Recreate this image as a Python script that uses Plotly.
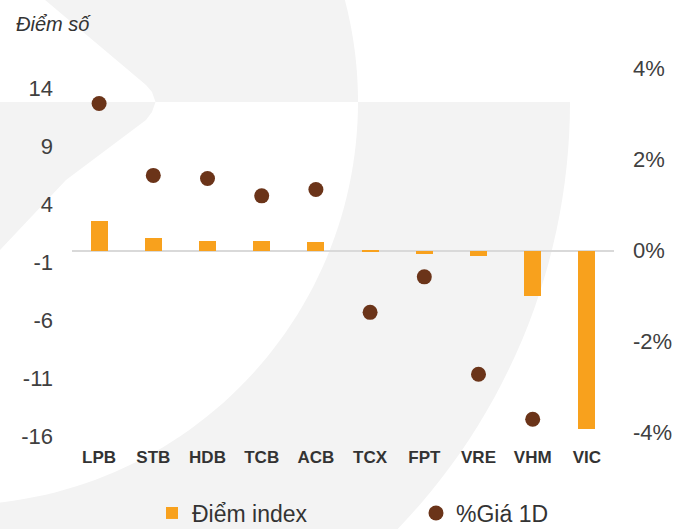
import numpy as np
import plotly.graph_objects as go

# ---------------- data ----------------
categories = ["LPB", "STB", "HDB", "TCB", "ACB", "TCX", "FPT", "VRE", "VHM", "VIC"]
diem_index = [2.53, 1.12, 0.84, 0.81, 0.78, -0.1, -0.3, -0.43, -3.88, -15.4]
gia_1d_pct = [3.22, 1.64, 1.57, 1.19, 1.33, -1.37, -0.59, -2.73, -3.72, None]
left_ticks = [14, 9, 4, -1, -6, -11, -16]
right_ticks = [4, 2, 0, -2, -4]

# ---------------- layout geometry (pixels) ----------------
W, H = 691, 529
PL, PR, PT, PB = 72, 614, 68, 437
FONT = "Liberation Sans, Arial, sans-serif"


def px2paper(x, y):
    return (x - PL) / (PR - PL), (PB - y) / (PB - PT)


def path_from(points):
    pts = [px2paper(x, y) for x, y in points]
    return "M " + " L ".join(f"{a:.5f},{b:.5f}" for a, b in pts) + " Z"


# background watermark (decorative)
cx, cy, r1, r2 = -45.0, 102.0, 403.0, 615.0
theta_top = np.arcsin((cy + 6) / r1)
arc_up = [(cx + r1 * np.cos(t), cy - r1 * np.sin(t)) for t in np.linspace(0, theta_top, 30)]
upper = [(38, -6), (146, 85), (152, 92), (155.5, 102)] + arc_up
lower_left = [(-6, 102), (155.5, 102), (152, 112), (146, 120), (66, 180), (0, 250), (-6, 256)]
ts = np.linspace(0, np.pi, 120)
ring = [(cx + r2 * np.cos(t), cy + r2 * np.sin(t)) for t in ts] + \
       [(cx + r1 * np.cos(t), cy + r1 * np.sin(t)) for t in ts[::-1]]

shapes = [
    dict(type="path", xref="paper", yref="paper", path=path_from(p),
         fillcolor="#F3F3F3", line=dict(width=0), layer="below")
    for p in (upper, lower_left, ring)
]

fig = go.Figure()
fig.add_trace(go.Bar(
    x=categories, y=diem_index, name="Điểm index",
    marker=dict(color="#F8A11D", line=dict(width=0)), width=0.314, yaxis="y",
))
fig.add_trace(go.Scatter(
    x=categories, y=gia_1d_pct, name="%Giá 1D", mode="markers",
    marker=dict(color="#6B3419", size=15), yaxis="y2",
))

zero_left = 250.7
ppu_left = 11.6
zero_right = 250.0
ppu_right = 45.5

fig.update_layout(
    width=W, height=H, autosize=False,
    margin=dict(l=PL, r=W - PR, t=PT, b=H - PB, pad=0, autoexpand=False),
    paper_bgcolor="white", plot_bgcolor="rgba(0,0,0,0)",
    font=dict(family=FONT, color="#404040"),
    shapes=shapes,
    bargap=0,
    showlegend=True,
    legend=dict(orientation="h", xref="container", yref="container",
                x=152 / W, xanchor="left",
                y=1 - 513 / H, yanchor="middle",
                font=dict(size=23, color="#333333", family=FONT),
                itemwidth=30, entrywidth=219, bgcolor="rgba(0,0,0,0)"),
    xaxis=dict(
        type="category", range=[-0.5, 9.5], showgrid=False, showline=False,
        ticks="", ticklabelstandoff=8, automargin=False,
        tickfont=dict(size=17, color="#333333", family=FONT, weight="bold"),
    ),
    yaxis=dict(
        range=[-(PB - zero_left) / ppu_left, (zero_left - PT) / ppu_left],
        tickvals=left_ticks, ticktext=[str(v) for v in left_ticks],
        showgrid=False, zeroline=True, zerolinecolor="#D9D9D9", zerolinewidth=2,
        showline=False, ticks="", ticklabelstandoff=18, automargin=False,
        tickfont=dict(size=22, color="#404040"),
    ),
    yaxis2=dict(
        overlaying="y", side="right",
        range=[-(PB - zero_right) / ppu_right, (zero_right - PT) / ppu_right],
        tickvals=right_ticks, ticktext=[f"{v}%" for v in right_ticks],
        showgrid=False, zeroline=False, showline=False, ticks="", ticklabelstandoff=18,
        automargin=False,
        tickfont=dict(size=22, color="#404040"),
    ),
    annotations=[dict(
        text="<i>Điểm số</i>", xref="paper", yref="paper",
        x=px2paper(14, 0)[0], y=px2paper(0, 24)[1], xanchor="left", yanchor="middle",
        showarrow=False, font=dict(size=20, color="#333333", family=FONT),
    )],
)

fig.write_html(
    "out.html",
    config={"displayModeBar": False},
    post_script="document.body.style.margin='0';document.body.style.overflow='hidden';",
)
